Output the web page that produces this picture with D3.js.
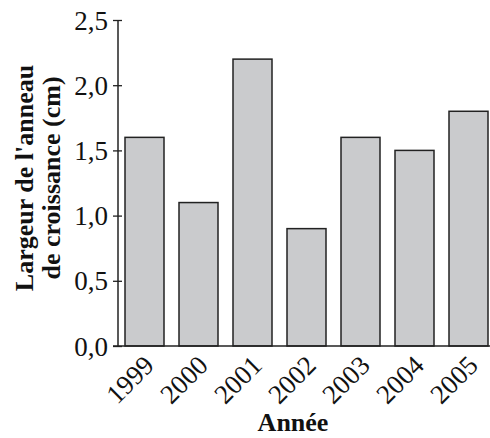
<!DOCTYPE html>
<html>
<head>
<meta charset="utf-8">
<script src="https://cdn.jsdelivr.net/npm/d3@7/dist/d3.min.js"></script>
<style>
  html, body { margin: 0; padding: 0; background: #fff; }
  svg { display: block; }
</style>
</head>
<body>
<div id="chart"></div>
<script>
const categories = ["1999", "2000", "2001", "2002", "2003", "2004", "2005"];
const values = [1.6, 1.1, 2.2, 0.9, 1.6, 1.5, 1.8];
const yTicks = [0, 0.5, 1.0, 1.5, 2.0, 2.5];
const yTitleLines = ["Largeur de l'anneau", "de croissance (cm)"];
const xTitle = "Année";

const W = 490, H = 438;
const FF = '"Liberation Serif"';
const svg = d3.select("#chart").append("svg").attr("width", W).attr("height", H);

const x = d3.scaleBand().domain(categories).range([118, 495])
  .paddingInner(15 / 54).paddingOuter(7 / 54);
const y = d3.scaleLinear().domain([0, 2.5]).range([346, 20]);

// bars
svg.append("g").selectAll("rect").data(values).join("rect")
  .attr("x", (d, i) => x(categories[i]))
  .attr("y", d => y(d))
  .attr("width", x.bandwidth())
  .attr("height", d => y(0) - y(d))
  .attr("fill", "#cacbcd")
  .attr("stroke", "#222")
  .attr("stroke-width", 1.5);

// y axis
const fmt = d => d3.format(".1f")(d).replace(".", ",");
const yAxis = svg.append("g").attr("transform", "translate(118,0)")
  .call(d3.axisLeft(y).tickValues(yTicks).tickFormat(fmt).tickSize(4).tickPadding(6));
yAxis.select(".domain").attr("d", `M0,${y(2.5)}V${y(0)}`).attr("stroke", "#222").attr("stroke-width", 1.5);
yAxis.selectAll(".tick line").attr("x1", 4).attr("x2", -5).attr("stroke", "#222").attr("stroke-width", 1.3);
yAxis.selectAll(".tick text").style("font-family", FF).style("font-size", "27px").attr("fill", "#111").attr("dy", "0.34em");

// x axis
svg.append("line").attr("x1", 113).attr("x2", 490).attr("y1", y(0)).attr("y2", y(0))
  .attr("stroke", "#222").attr("stroke-width", 1.5);

svg.append("g").selectAll("text").data(categories).join("text")
  .attr("transform", d => `translate(${x(d) + x.bandwidth() / 2 + 11},${y(0) + 21}) rotate(-45)`)
  .attr("text-anchor", "end")
  .style("font-family", FF).style("font-size", "27px").attr("fill", "#111")
  .text(d => d);

// axis titles
svg.append("text").attr("x", 293).attr("y", 431).attr("text-anchor", "middle")
  .style("font-family", FF).style("font-size", "26px").style("font-weight", "bold").attr("fill", "#111")
  .text(xTitle);

const yt = svg.append("text").attr("transform", "translate(33,178) rotate(-90)")
  .attr("text-anchor", "middle").style("font-family", FF).style("font-size", "26px")
  .style("font-weight", "bold").attr("fill", "#111");
yTitleLines.forEach((t, i) => {
  yt.append("tspan").attr("x", 0).attr("y", i * 27).text(t);
});
</script>
</body>
</html>
